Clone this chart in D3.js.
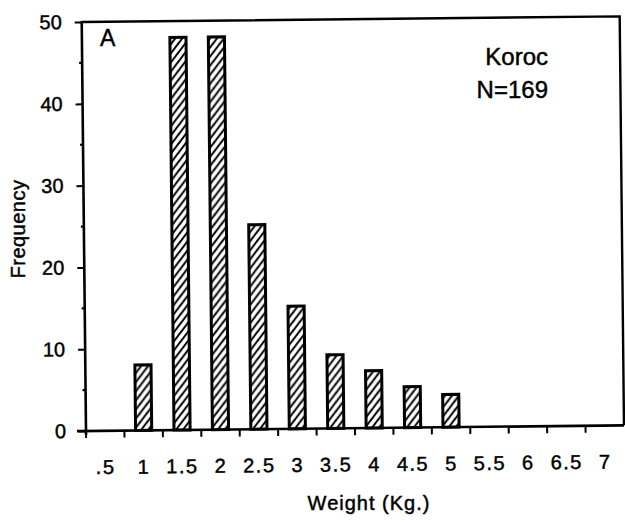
<html>
  <head>
    <meta charset="UTF-8">
    <script src="https://unpkg.com/d3@7/dist/d3.min.js"></script>
    <style>
      body { margin: 0; background: #fff; }
      text { font-family: "Liberation Sans", Arial, Helvetica, sans-serif; fill: #000; stroke: #000; stroke-width: 0.45px; }
    </style>
  </head>
  <body>
	<script type="text/javascript">

      // weight classes (Kg.) and how many fish fall in each
      var weights = [".5", "1", "1.5", "2", "2.5", "3", "3.5", "4", "4.5", "5", "5.5", "6", "6.5", "7"];
      var counts  = [0, 8, 48, 48, 25, 15, 9, 7, 5, 4, 0, 0, 0, 0];
      var yTicks = [0, 10, 20, 30, 40, 50];
      var yMinor = [5, 15, 25, 35, 45];

      var width = 625;
      var height = 522;

      var svg = d3.select('body')
                  .append('svg')
                  .attr('width', width)
                  .attr('height', height);

      // hatch fill for the bars
      var pat = svg.append('defs').append('pattern')
          .attr('id', 'hatch')
          .attr('patternUnits', 'userSpaceOnUse')
          .attr('width', 7)
          .attr('height', 9);
      pat.append('rect').attr('width', 7).attr('height', 9).attr('fill', '#fff');
      pat.append('path')
          .attr('d', 'M-1,10.3 L8,-1.3 M-1,1.3 L1,-1.3 M6,10.3 L8,7.7')
          .attr('stroke', '#000')
          .attr('stroke-width', 2);

      var x = d3.scaleBand()
          .domain(weights)
          .range([86, 624]);

      var y = d3.scaleLinear()
          .domain([0, 50])
          .range([431, 22]);

      var axisX = 86;

      // the original scan sits slightly askew
      var plot = svg.append('g')
          .attr('transform', 'rotate(-0.6,' + axisX + ',' + y(0) + ')');

      // frame: top and right
      plot.append('path')
          .attr('d', 'M' + axisX + ',' + y(50) + ' H624 V' + y(0))
          .attr('fill', 'none')
          .attr('stroke', '#000')
          .attr('stroke-width', 2.4);

      // bars
      var barW = x.bandwidth() * 0.42;
      plot.selectAll('rect.bar')
          .data(weights.map(function(w, i){ return {w: w, n: counts[i]}; })
                       .filter(function(d){ return d.n > 0; }))
          .enter()
          .append('rect')
          .attr('class', 'bar')
          .attr('x', function(d){ return x(d.w) + (x.bandwidth() - barW) / 2; })
          .attr('y', function(d){ return y(d.n); })
          .attr('width', barW)
          .attr('height', function(d){ return y(0) - y(d.n); })
          .style('fill', 'url(#hatch)')
          .style('stroke', 'black')
          .style('stroke-width', '3px');

      // y axis
      var gy = plot.append('g')
          .attr('transform', 'translate(' + axisX + ',0)')
          .call(d3.axisLeft(y).tickValues(yTicks).tickSize(7).tickPadding(13));
      gy.select('.domain').remove();
      gy.selectAll('.tick line').attr('stroke-width', 2);
      gy.selectAll('.tick text').style('font-size', '20px');
      gy.selectAll('line.minor')
          .data(yMinor)
          .enter()
          .append('line')
          .attr('class', 'minor')
          .attr('x1', -3).attr('x2', 0)
          .attr('y1', function(d){ return y(d); })
          .attr('y2', function(d){ return y(d); })
          .attr('stroke', '#000')
          .attr('stroke-width', 2.2);
      plot.append('line')
          .attr('x1', axisX).attr('x2', axisX)
          .attr('y1', y(50) - 1).attr('y2', y(0) + 4)
          .attr('stroke', '#000')
          .attr('stroke-width', 2.6);

      // x axis: labels centred on each class, ticks at class edges
      var gx = plot.append('g')
          .attr('transform', 'translate(0,' + y(0) + ')')
          .call(d3.axisBottom(x).tickSize(0).tickPadding(29));
      gx.select('.domain').remove();
      gx.selectAll('.tick text')
          .style('font-size', '20px')
          .style('letter-spacing', '1.5px');
      plot.append('line')
          .attr('x1', 77).attr('x2', 624)
          .attr('y1', y(0)).attr('y2', y(0))
          .attr('stroke', '#000')
          .attr('stroke-width', 2.6);
      plot.selectAll('line.xtick')
          .data(weights)
          .enter()
          .append('line')
          .attr('class', 'xtick')
          .attr('x1', function(d){ return x(d); })
          .attr('x2', function(d){ return x(d); })
          .attr('y1', y(0))
          .attr('y2', y(0) + 7)
          .attr('stroke', '#000')
          .attr('stroke-width', 2);

      // axis titles
      svg.append('text')
          .attr('x', 369)
          .attr('y', 510)
          .attr('text-anchor', 'middle')
          .style('font-size', '20px')
          .style('letter-spacing', '1px')
          .text('Weight (Kg.)');

      svg.append('text')
          .attr('transform', 'translate(25,229) rotate(-90)')
          .attr('text-anchor', 'middle')
          .style('font-size', '20px')
          .style('letter-spacing', '0.5px')
          .text('Frequency');

      // panel letter and sample note
      svg.append('text')
          .attr('x', 100)
          .attr('y', 46)
          .style('font-size', '23px')
          .text('A');

      svg.append('text')
          .attr('x', 548)
          .attr('y', 65)
          .attr('text-anchor', 'end')
          .style('font-size', '24px')
          .text('Koroc');

      svg.append('text')
          .attr('x', 548)
          .attr('y', 98)
          .attr('text-anchor', 'end')
          .style('font-size', '24px')
          .text('N=169');

	</script>
  </body>
</html>
